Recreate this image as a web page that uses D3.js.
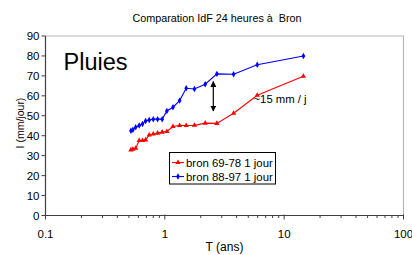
<!DOCTYPE html>
<html>
<head>
<meta charset="utf-8">
<script src="https://cdn.jsdelivr.net/npm/d3@7"></script>
<style>
    body { margin: 0; background: #fff; }
    svg { display: block; font-family: Arial, "Liberation Sans", sans-serif; }
</style>
</head>
<body>
<div id="chart"></div>
<script>

var periods = [14.5, 5.95, 3.77, 2.73, 2.18, 1.77, 1.51, 1.33, 1.17, 1.04, 0.95, 0.87, 0.80, 0.74, 0.69, 0.65, 0.61, 0.57, 0.54, 0.52]
var bron6978 = [69.8, 60.3, 51.3, 46.2, 46.3, 45.2, 45.1, 45.1, 44.6, 42.1, 41.8, 41.3, 40.9, 40.4, 37.9, 37.6, 37.6, 33.7, 33.2, 32.9]
var bron8897 = [80.0, 75.6, 70.8, 71.0, 65.8, 63.4, 63.8, 57.6, 54.3, 52.4, 48.3, 48.3, 48.3, 47.9, 47.4, 45.9, 45.1, 44.3, 43.0, 42.5]
var seriesNames = ["bron 69-78 1 jour", "bron 88-97 1 jour"]
var seriesColors = ["#ff0000", "#0000ff"]
var yTicks = [0, 10, 20, 30, 40, 50, 60, 70, 80, 90]
var xTicks = [0.1, 1, 10, 100]
var xTickLabels = ["0.1", "1", "10", "100"]

var width = 412, height = 255
var margin = {left: 45.5, right: 8.5, top: 36, bottom: 39.5}

var svg = d3.select("#chart").append("svg")
    .attr("width", width)
    .attr("height", height)

var x = d3.scaleLog().domain([0.1, 100]).range([margin.left, width - margin.right])
var y = d3.scaleLinear().domain([0, 90]).range([height - margin.bottom, margin.top])

// title
svg.append("text")
    .attr("x", 217)
    .attr("y", 22)
    .attr("text-anchor", "middle")
    .style("font-size", "10.8px")
    .text("Comparation IdF 24 heures à\u00a0 Bron")

// plot frame (top + right in light grey)
svg.append("path")
    .attr("d", "M" + x(0.1) + "," + y(90) + "H" + x(100) + "V" + y(0))
    .attr("fill", "none")
    .attr("stroke", "#b8b8b8")
    .attr("stroke-width", 1.2)

// y axis
var yAxis = svg.append("g")
yAxis.append("line")
    .attr("x1", x(0.1)).attr("x2", x(0.1))
    .attr("y1", y(0)).attr("y2", y(90))
    .attr("stroke", "#404040").attr("stroke-width", 1.2)
yAxis.selectAll(".ytick")
    .data(yTicks)
    .enter().append("line")
    .attr("class", "ytick")
    .attr("x1", x(0.1) - 4).attr("x2", x(0.1))
    .attr("y1", function(d) { return y(d) }).attr("y2", function(d) { return y(d) })
    .attr("stroke", "#404040")
yAxis.selectAll(".ylab")
    .data(yTicks)
    .enter().append("text")
    .attr("class", "ylab")
    .attr("x", 39.5)
    .attr("y", function(d) { return y(d) })
    .attr("dy", ".35em")
    .attr("text-anchor", "end")
    .style("font-size", "11.5px")
    .text(function(d) { return d })

// x axis with log minor ticks
var minor = []
d3.range(-1, 2).forEach(function(e) {
    d3.range(2, 10).forEach(function(k) { minor.push(k * Math.pow(10, e)) })
})
var xAxis = svg.append("g")
xAxis.append("line")
    .attr("x1", x(0.1)).attr("x2", x(100))
    .attr("y1", y(0)).attr("y2", y(0))
    .attr("stroke", "#404040").attr("stroke-width", 1.2)
xAxis.selectAll(".xminor")
    .data(minor)
    .enter().append("line")
    .attr("x1", function(d) { return x(d) }).attr("x2", function(d) { return x(d) })
    .attr("y1", y(0)).attr("y2", y(0) + 2.5)
    .attr("stroke", "#404040")
xAxis.selectAll(".xmajor")
    .data(xTicks)
    .enter().append("line")
    .attr("x1", function(d) { return x(d) }).attr("x2", function(d) { return x(d) })
    .attr("y1", y(0) - 1).attr("y2", y(0) + 4)
    .attr("stroke", "#404040")
xAxis.selectAll(".xlab")
    .data(xTicks)
    .enter().append("text")
    .attr("x", function(d) { return x(d) })
    .attr("y", 237.5)
    .attr("text-anchor", "middle")
    .style("font-size", "11.5px")
    .text(function(d, i) { return xTickLabels[i] })

svg.append("text")
    .attr("x", 224.5)
    .attr("y", 251)
    .attr("text-anchor", "middle")
    .style("font-size", "12px")
    .text("T (ans)")

svg.append("text")
    .attr("transform", "translate(24,123)rotate(-90)")
    .attr("text-anchor", "middle")
    .style("font-size", "10.5px")
    .text("I (mm/jour)")

// series
var series = [bron6978, bron8897].map(function(vals, i) {
    return {name: seriesNames[i], color: seriesColors[i], symbol: i == 0 ? d3.symbolTriangle : d3.symbolDiamond,
        points: vals.map(function(v, j) { return {t: periods[j], v: v} })}
})

var line = d3.line()
    .x(function(d) { return x(d.t) })
    .y(function(d) { return y(d.v) })

var g = svg.selectAll(".series")
    .data(series)
    .enter().append("g")
    .attr("class", "series")

g.append("path")
    .attr("d", function(d) { return line(d.points) })
    .attr("fill", "none")
    .attr("stroke", function(d) { return d.color })
    .attr("stroke-width", 1.1)

g.each(function(s) {
    d3.select(this).selectAll(".pt")
        .data(s.points)
        .enter().append("path")
        .attr("class", "pt")
        .attr("transform", function(d) { return "translate(" + x(d.t) + "," + y(d.v) + ")" })
        .attr("d", d3.symbol().type(s.symbol).size(12))
        .attr("fill", s.color)
})

// annotations
svg.append("text")
    .attr("x", 63.5)
    .attr("y", 70)
    .style("font-size", "23.5px")
    .text("Pluies")

var defs = svg.append("defs")
defs.append("marker")
    .attr("id", "head")
    .attr("viewBox", "0 0 10 10")
    .attr("refX", 9).attr("refY", 5)
    .attr("markerWidth", 5).attr("markerHeight", 5)
    .attr("orient", "auto-start-reverse")
    .append("path")
    .attr("d", "M0,0L10,5L0,10z")
    .attr("fill", "#000")

svg.append("line")
    .attr("x1", 213.3).attr("x2", 213.3)
    .attr("y1", 81.5).attr("y2", 111)
    .attr("stroke", "#000")
    .attr("stroke-width", 1.2)
    .attr("marker-start", "url(#head)")
    .attr("marker-end", "url(#head)")

svg.append("text")
    .attr("x", 253.5)
    .attr("y", 103)
    .style("font-size", "11.3px")
    .text("~15 mm / j")

// legend
var legend = svg.append("g")
legend.append("rect")
    .attr("x", 169.5).attr("y", 152.5)
    .attr("width", 106).attr("height", 31.5)
    .attr("fill", "#fff")
    .attr("stroke", "#000")
    .attr("stroke-width", 1)

var li = legend.selectAll(".li")
    .data(series)
    .enter().append("g")
    .attr("transform", function(d, i) { return "translate(172," + (162.5 + i * 14) + ")" })
li.append("line")
    .attr("x1", 0).attr("x2", 12)
    .attr("stroke", function(d) { return d.color })
    .attr("stroke-width", 1.1)
li.append("path")
    .attr("transform", "translate(6,0)")
    .attr("d", function(d) { return d3.symbol().type(d.symbol).size(12)() })
    .attr("fill", function(d) { return d.color })
li.append("text")
    .attr("x", 14)
    .attr("dy", ".35em")
    .style("font-size", "11.4px")
    .text(function(d) { return d.name })

</script>
</body>
</html>
